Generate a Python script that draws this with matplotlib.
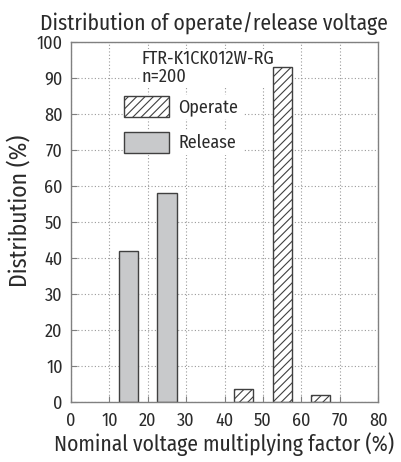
import matplotlib
matplotlib.use("Agg")
import matplotlib.pyplot as plt
from matplotlib.patches import Rectangle

plt.rcParams["font.family"] = ["Fira Sans Condensed", "PT Sans Narrow", "DejaVu Sans"]
plt.rcParams["hatch.linewidth"] = 0.8

# release / operate distributions by nominal voltage factor (%)
release_x = [15, 25]
release_pct = [42, 58]
operate_x = [45, 55, 65]
operate_pct = [3.5, 93, 2]

x_ticks = list(range(0, 81, 10))
y_ticks = list(range(0, 101, 10))

part_name = "FTR-K1CK012W-RG"
sample_note = "n=200"

spine_col = "#808080"
edge_col = "#404040"
text_col = "#2a2a2a"
release_col = "#c8c9cb"


def draw_legend_row(ax, y, label, **patch_kw):
    # white strip behind the row hides the grid there
    ax.add_patch(Rectangle((0.172, y - 0.033), 0.39, 0.066, transform=ax.transAxes,
                           facecolor="white", edgecolor="none", zorder=3))
    ax.add_patch(Rectangle((0.173, y - 0.029), 0.145, 0.058, transform=ax.transAxes,
                           edgecolor=edge_col, linewidth=1.0, zorder=4, **patch_kw))
    ax.text(0.35, y, label, transform=ax.transAxes, ha="left", va="center",
            fontsize=13, color=text_col, zorder=5)


def main() -> None:
    fig = plt.figure(figsize=(4.01, 4.62), dpi=100)
    ax = fig.add_axes([0.177, 0.130, 0.766, 0.779])

    ax.bar(release_x, release_pct, width=5, color=release_col,
           edgecolor=edge_col, linewidth=1.0, zorder=2)
    ax.bar(operate_x, operate_pct, width=5, color="white", hatch="////",
           edgecolor=edge_col, linewidth=1.0, zorder=2)

    ax.set_xlim(0, 80)
    ax.set_ylim(0, 100)
    ax.set_xticks(x_ticks)
    ax.set_yticks(y_ticks)
    ax.grid(True, linestyle=(0, (1, 2)), color="#9a9a9a", linewidth=0.8, zorder=0)
    ax.set_axisbelow(True)
    ax.tick_params(direction="in", length=4, color=spine_col, labelsize=13,
                   labelcolor=text_col)
    ax.tick_params(axis="x", pad=7)
    ax.tick_params(axis="y", pad=6)
    for s in ax.spines.values():
        s.set_color(spine_col)
        s.set_linewidth(1.0)

    # sits above the grid but under the bars
    ax.text(0.228, 0.978, part_name + "\n" + sample_note, transform=ax.transAxes,
            ha="left", va="top", fontsize=13, color=text_col,
            linespacing=1.0, zorder=1.5,
            bbox=dict(facecolor="white", edgecolor="none", pad=1))

    draw_legend_row(ax, 0.82, "Operate", facecolor="white", hatch="////")
    draw_legend_row(ax, 0.72, "Release", facecolor=release_col)

    ax.set_xlabel("Nominal voltage multiplying factor (%)", fontsize=15.5,
                  color=text_col)
    ax.xaxis.set_label_coords(0.5, -0.085)
    ax.set_ylabel("Distribution (%)", fontsize=17, color=text_col)
    ax.yaxis.set_label_coords(-0.13, 0.53)
    ax.set_title("Distribution of operate/release voltage", fontsize=15.5,
                 color=text_col, x=0.464, pad=9)

    fig.savefig("out.png", dpi=100)


if __name__ == "__main__":
    main()
